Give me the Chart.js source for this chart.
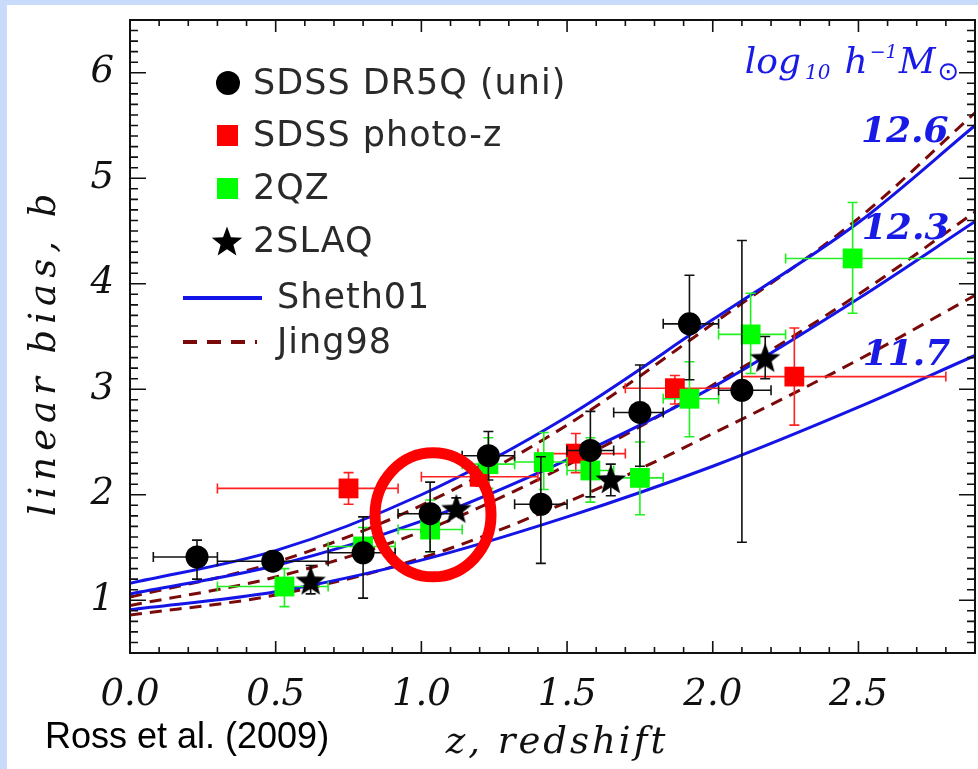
<!DOCTYPE html>
<html>
<head>
<meta charset="utf-8">
<script src="https://cdn.jsdelivr.net/npm/chart.js@4"></script>
<style>
  html, body { margin: 0; padding: 0; background: #c9dbfb; overflow: hidden; }
  #wrap { width: 978px; height: 769px; }
  canvas { display: block; }
</style>
</head>
<body>
<div id="wrap"><canvas id="grafico-bias" width="978" height="769"></canvas></div>
<script>
// quasar linear bias vs redshift (Ross et al. 2009)

var xTicks = [0.0, 0.5, 1.0, 1.5, 2.0, 2.5];
var yTicks = [1, 2, 3, 4, 5, 6];

// model curves
var curveZ = [0, 0.5, 1.0, 1.5, 2.0, 2.5, 2.9];
var sheth126 = [1.16, 1.47, 2.00, 2.74, 3.66, 4.58, 5.50];
var sheth123 = [1.06, 1.33, 1.75, 2.33, 3.02, 3.86, 4.59];
var sheth117 = [0.91, 1.08, 1.38, 1.79, 2.27, 2.83, 3.32];
var jing126 = [1.03, 1.36, 1.90, 2.66, 3.62, 4.62, 5.62];
var jing123 = [0.95, 1.22, 1.65, 2.28, 3.04, 3.90, 4.68];
var jing117 = [0.86, 1.05, 1.40, 1.93, 2.58, 3.28, 3.89];

// SDSS DR5Q (uni)
var dr5qZ = [0.23, 0.49, 0.80, 1.03, 1.23, 1.41, 1.58, 1.75, 1.92, 2.10];
var dr5qB = [1.41, 1.37, 1.45, 1.82, 2.37, 1.91, 2.42, 2.78, 3.62, 2.99];
var dr5qZlo = [0.08, 0.30, 0.68, 0.92, 1.14, 1.32, 1.50, 1.66, 1.83, 2.02];
var dr5qZhi = [0.30, 0.68, 0.91, 1.14, 1.32, 1.50, 1.66, 1.83, 2.02, 2.20];
var dr5qBlo = [1.20, 1.33, 1.02, 1.46, 2.14, 1.35, 1.98, 2.27, 3.09, 1.55];
var dr5qBhi = [1.57, 1.41, 1.79, 2.12, 2.60, 2.36, 2.79, 3.23, 4.08, 4.41];

// SDSS photo-z
var photZ = [0.75, 1.20, 1.53, 1.87, 2.28];
var photB = [2.06, 2.17, 2.39, 3.01, 3.12];
var photZlo = [0.30, 1.00, 1.40, 1.70, 2.10];
var photZhi = [0.92, 1.40, 1.70, 2.10, 2.80];
var photBlo = [1.91, 2.08, 2.21, 2.86, 2.66];
var photBhi = [2.21, 2.26, 2.58, 3.13, 3.58];

// 2QZ
var qzZ = [0.53, 0.80, 1.03, 1.23, 1.42, 1.58, 1.75, 1.92, 2.13, 2.48];
var qzB = [1.13, 1.51, 1.67, 2.29, 2.31, 2.23, 2.16, 2.91, 3.52, 4.24];
var qzZlo = [0.30, 0.68, 0.92, 1.14, 1.32, 1.50, 1.66, 1.83, 2.02, 2.25];
var qzZhi = [0.68, 0.91, 1.14, 1.32, 1.50, 1.66, 1.83, 2.02, 2.25, 2.90];
var qzBlo = [0.94, 1.39, 1.46, 2.06, 2.05, 1.93, 1.81, 2.55, 3.15, 3.72];
var qzBhi = [1.30, 1.69, 1.95, 2.54, 2.59, 2.54, 2.50, 3.26, 3.91, 4.77];

// 2SLAQ
var slaqZ = [0.62, 1.12, 1.65, 2.18];
var slaqB = [1.19, 1.87, 2.15, 3.30];
var slaqBlo = [1.06, 1.80, 1.99, 3.10];
var slaqBhi = [1.33, 1.97, 2.29, 3.50];

var BLUE = "#1414e6";
var BROWN = "#7a0a0a";
var LABEL_BLUE = "#1a1ae6";

function pts(xs, ys) {
  return xs.map(function (x, i) { return { x: x, y: ys[i] }; });
}

function makeStar(size) {
  var c = document.createElement("canvas");
  c.width = size;
  c.height = size;
  var g = c.getContext("2d");
  var cx = size / 2, cy = size / 2 + size * 0.05, R = size / 2, r = R * 0.42;
  g.beginPath();
  for (var i = 0; i < 10; i++) {
    var a = -Math.PI / 2 + i * Math.PI / 5;
    var rr = i % 2 ? r : R;
    g.lineTo(cx + rr * Math.cos(a), cy + rr * Math.sin(a));
  }
  g.closePath();
  g.fillStyle = "#000";
  g.fill();
  return c;
}
var starImg = makeStar(32);

function curve(ys, color, dashed) {
  return {
    type: "line",
    data: pts(curveZ, ys),
    borderColor: color,
    borderWidth: 3,
    borderDash: dashed ? [12, 8] : [],
    pointRadius: 0,
    cubicInterpolationMode: "monotone",
    fill: false,
    order: 10,
  };
}

var tickFont = { family: "DejaVu Serif", style: "italic", size: 37 };

function noPadding(s) {
  s.paddingTop = 0;
  s.paddingBottom = 0;
  s.paddingLeft = 0;
  s.paddingRight = 0;
}

var bgPlugin = {
  id: "bg",
  beforeDraw: function (chart) {
    var c = chart.ctx;
    c.save();
    c.fillStyle = "#c9dbfb";
    c.fillRect(0, 0, chart.width, chart.height);
    c.fillStyle = "#ffffff";
    c.fillRect(7, 5, chart.width - 7, chart.height - 5);
    c.restore();
  },
};

var errorBarPlugin = {
  id: "errorBars",
  beforeDatasetDraw: function (chart, args) {
    var ds = chart.data.datasets[args.index];
    if (!ds.err) return;
    var xs = chart.scales.x, ys = chart.scales.y, c = chart.ctx, e = ds.err, cap = 5;
    c.save();
    c.strokeStyle = ds.errColor;
    c.lineWidth = 1.6;
    c.beginPath();
    ds.data.forEach(function (p, i) {
      var px = xs.getPixelForValue(p.x), py = ys.getPixelForValue(p.y);
      if (e.zlo) {
        var x1 = xs.getPixelForValue(e.zlo[i]), x2 = xs.getPixelForValue(e.zhi[i]);
        c.moveTo(x1, py); c.lineTo(x2, py);
        c.moveTo(x1, py - cap); c.lineTo(x1, py + cap);
        c.moveTo(x2, py - cap); c.lineTo(x2, py + cap);
      }
      if (e.blo) {
        var y1 = ys.getPixelForValue(e.blo[i]), y2 = ys.getPixelForValue(e.bhi[i]);
        c.moveTo(px, y1); c.lineTo(px, y2);
        c.moveTo(px - cap, y1); c.lineTo(px + cap, y1);
        c.moveTo(px - cap, y2); c.lineTo(px + cap, y2);
      }
    });
    c.stroke();
    c.restore();
  },
};

var framePlugin = {
  id: "frame",
  afterDatasetsDraw: function (chart) {
    var a = chart.chartArea, xs = chart.scales.x, ys = chart.scales.y, c = chart.ctx;
    c.save();
    c.strokeStyle = "#111";
    c.lineWidth = 2;
    c.strokeRect(a.left, a.top, a.right - a.left, a.bottom - a.top);
    c.lineWidth = 1.6;
    c.beginPath();
    var v, p, len;
    for (v = 1; v < 29; v++) {
      p = xs.getPixelForValue(v / 10);
      len = v % 5 === 0 ? 12 : 6;
      c.moveTo(p, a.bottom); c.lineTo(p, a.bottom - len);
      c.moveTo(p, a.top); c.lineTo(p, a.top + len);
    }
    for (v = 6; v < 65; v++) {
      p = ys.getPixelForValue(v / 10);
      len = v % 10 === 0 ? 16 : 8;
      c.moveTo(a.left, p); c.lineTo(a.left + len, p);
      c.moveTo(a.right, p); c.lineTo(a.right - len, p);
    }
    c.stroke();
    c.restore();
  },
};

function spacedText(c, txt, x, y, spacing) {
  c.letterSpacing = spacing + "px";
  c.fillText(txt, x, y);
  c.letterSpacing = "0px";
}

var notesPlugin = {
  id: "notes",
  afterDraw: function (chart) {
    var c = chart.ctx, xs = chart.scales.x, ys = chart.scales.y;
    c.save();

    // legend
    c.fillStyle = "#000";
    c.beginPath();
    c.arc(228, 83, 12, 0, Math.PI * 2);
    c.fill();
    c.fillStyle = "#ff0000";
    c.fillRect(217, 125, 21, 21);
    c.fillStyle = "#00ff00";
    c.fillRect(217, 178, 21, 21);
    c.drawImage(starImg, 211, 225);
    c.strokeStyle = BLUE;
    c.lineWidth = 4;
    c.beginPath();
    c.moveTo(183, 298); c.lineTo(262, 298);
    c.stroke();
    c.strokeStyle = BROWN;
    c.setLineDash([14, 10]);
    c.beginPath();
    c.moveTo(183, 342); c.lineTo(257, 342);
    c.stroke();
    c.setLineDash([]);

    c.fillStyle = "#2a2a2a";
    c.font = "35px 'DejaVu Sans'";
    c.textBaseline = "middle";
    c.textAlign = "left";
    spacedText(c, "SDSS DR5Q (uni)", 253, 85, 1);
    spacedText(c, "SDSS photo-z", 253, 137, 1);
    spacedText(c, "2QZ", 253, 190, 1);
    spacedText(c, "2SLAQ", 253, 243, 1);
    spacedText(c, "Sheth01", 277, 299, 1);
    spacedText(c, "Jing98", 277, 344, 1);

    // mass labels
    c.fillStyle = LABEL_BLUE;
    c.font = "italic bold 36px 'DejaVu Serif'";
    c.textAlign = "center";
    c.fillText("12.6", xs.getPixelForValue(2.659), ys.getPixelForValue(5.43));
    c.fillText("12.3", xs.getPixelForValue(2.662), ys.getPixelForValue(4.51));
    c.fillText("11.7", xs.getPixelForValue(2.665), ys.getPixelForValue(3.32));

    // log10 h^-1 Msun
    c.textAlign = "left";
    c.textBaseline = "alphabetic";
    var x = xs.getPixelForValue(2.11), y = ys.getPixelForValue(6.0);
    var parts = [
      ["log", "italic 36px 'DejaVu Serif'", 0, 4],
      ["10", "italic 20px 'DejaVu Serif'", 6, 14],
      ["h", "italic 36px 'DejaVu Serif'", 0, 2],
      ["\u22121", "italic 19px 'DejaVu Serif'", -15, 1],
      ["M", "italic 36px 'DejaVu Serif'", 0, 2],
      ["\u2299", "26px 'DejaVu Sans'", 7, 0],
    ];
    parts.forEach(function (pt) {
      c.font = pt[1];
      c.fillText(pt[0], x, y + pt[2]);
      x += c.measureText(pt[0]).width + pt[3];
    });

    // axis titles
    c.fillStyle = "#111";
    c.font = "italic 37px 'DejaVu Serif'";
    c.textAlign = "center";
    c.textBaseline = "middle";
    spacedText(c, "z, redshift", 557, 743, 3);
    c.save();
    c.translate(45, 352);
    c.rotate(-Math.PI / 2);
    spacedText(c, "linear bias, b", 0, 0, 6);
    c.restore();

    c.fillStyle = "#000";
    c.font = "36px 'Liberation Sans'";
    c.textAlign = "left";
    c.textBaseline = "alphabetic";
    c.fillText("Ross et al. (2009)", 45, 748);

    // highlight ring
    c.strokeStyle = "#ff0000";
    c.lineWidth = 11;
    c.beginPath();
    c.ellipse(xs.getPixelForValue(1.04), ys.getPixelForValue(1.81), 58, 62, 0, 0, Math.PI * 2);
    c.stroke();
    c.restore();
  },
};

var graficoBias = document.getElementById("grafico-bias").getContext("2d");

new Chart(graficoBias, {
  type: "scatter",
  data: {
    datasets: [
      curve(sheth126, BLUE, false),
      curve(sheth123, BLUE, false),
      curve(sheth117, BLUE, false),
      curve(jing126, BROWN, true),
      curve(jing123, BROWN, true),
      curve(jing117, BROWN, true),
      {
        label: "SDSS photo-z",
        data: pts(photZ, photB),
        pointStyle: "rect",
        pointRadius: 14,
        backgroundColor: "#ff0000",
        borderWidth: 0,
        err: { zlo: photZlo, zhi: photZhi, blo: photBlo, bhi: photBhi },
        errColor: "#ff2020",
        order: 4,
      },
      {
        label: "2QZ",
        data: pts(qzZ, qzB),
        pointStyle: "rect",
        pointRadius: 14,
        backgroundColor: "#00ff00",
        borderWidth: 0,
        err: { zlo: qzZlo, zhi: qzZhi, blo: qzBlo, bhi: qzBhi },
        errColor: "#22ee22",
        order: 3,
      },
      {
        label: "SDSS DR5Q (uni)",
        data: pts(dr5qZ, dr5qB),
        pointStyle: "circle",
        pointRadius: 11.5,
        backgroundColor: "#000",
        borderWidth: 0,
        err: { zlo: dr5qZlo, zhi: dr5qZhi, blo: dr5qBlo, bhi: dr5qBhi },
        errColor: "#111",
        order: 2,
      },
      {
        label: "2SLAQ",
        data: pts(slaqZ, slaqB),
        pointStyle: starImg,
        err: { blo: slaqBlo, bhi: slaqBhi },
        errColor: "#111",
        order: 1,
      },
    ],
  },
  options: {
    responsive: false,
    animation: false,
    layout: { autoPadding: false, padding: { top: 20, right: 3, left: 0, bottom: 0 } },
    plugins: {
      legend: { display: false },
      tooltip: { enabled: false },
    },
    scales: {
      x: {
        type: "linear",
        min: 0,
        max: 2.9,
        grid: { display: false },
        border: { display: false },
        afterBuildTicks: function (s) {
          s.ticks = xTicks.map(function (v) { return { value: v }; });
        },
        afterFit: function (s) { s.height = 116; noPadding(s); },
        ticks: {
          padding: 12,
          color: "#111",
          font: tickFont,
          callback: function (v) { return Number(v).toFixed(1); },
        },
      },
      y: {
        type: "linear",
        min: 0.5,
        max: 6.5,
        grid: { display: false },
        border: { display: false },
        afterBuildTicks: function (s) {
          s.ticks = yTicks.map(function (v) { return { value: v }; });
        },
        afterFit: function (s) { s.width = 130; noPadding(s); },
        ticks: {
          padding: 8,
          color: "#111",
          font: tickFont,
          callback: function (v) { return String(v); },
        },
      },
    },
  },
  plugins: [bgPlugin, errorBarPlugin, framePlugin, notesPlugin],
});
</script>
</body>
</html>
